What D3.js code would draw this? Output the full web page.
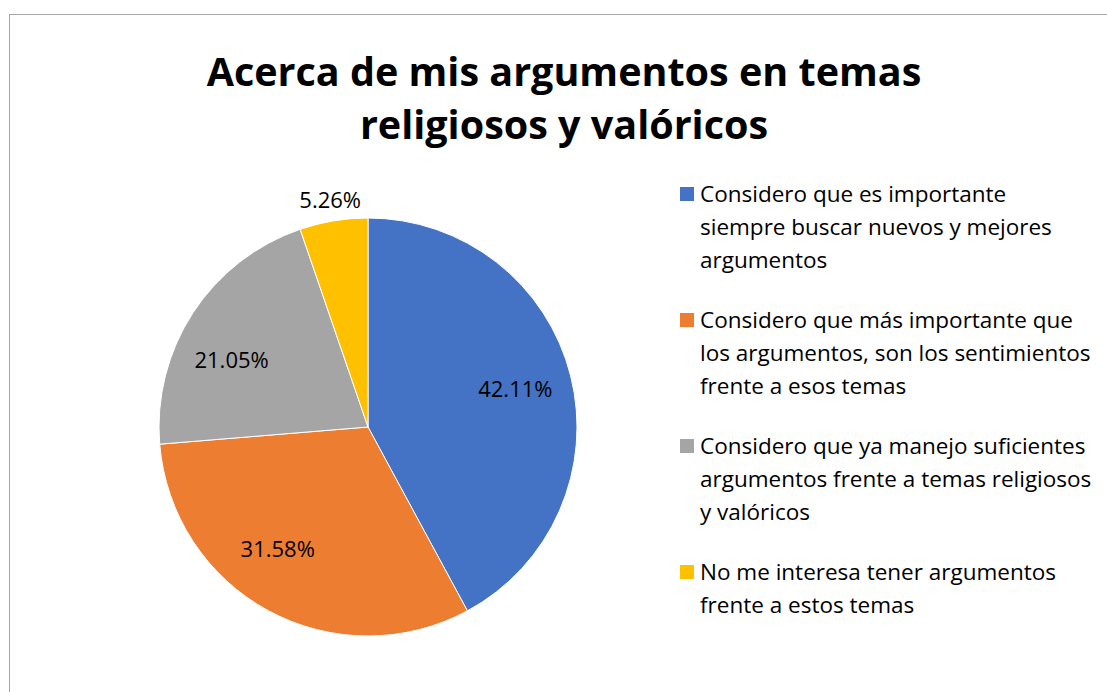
<!DOCTYPE html>
<html>
<head>
<meta charset="utf-8">
<script src="https://cdn.jsdelivr.net/npm/d3@7"></script>
<style>
  body { margin: 0; background: #fff; }
  svg { display: block; font-family: "Open Sans", sans-serif; }
</style>
</head>
<body>
<div id="chart"></div>
<script>
// Data
var categories = [
  ["Considero que es importante", "siempre buscar nuevos y mejores", "argumentos"],
  ["Considero que más importante que", "los argumentos, son los sentimientos", "frente a esos temas"],
  ["Considero que ya manejo suficientes", "argumentos frente a temas religiosos", "y valóricos"],
  ["No me interesa tener argumentos", "frente a estos temas"]
];
var values = [42.11, 31.58, 21.05, 5.26];
var labels = ["42.11%", "31.58%", "21.05%", "5.26%"];
var colors = ["#4472c4", "#ed7d31", "#a5a5a5", "#ffc000"];
var titleLines = ["Acerca de mis argumentos en temas", "religiosos y valóricos"];

var width = 1107, height = 692;

var svg = d3.select("#chart")
  .append("svg")
  .attr("width", width)
  .attr("height", height);

// chart border
svg.append("rect")
  .attr("x", 9.5).attr("y", 14.5)
  .attr("width", 1120).attr("height", 700)
  .style("fill", "none")
  .style("stroke", "#a6a6a6")
  .style("stroke-width", 1);

// title
svg.append("text")
  .attr("text-anchor", "middle")
  .style("font-size", "39.5px")
  .style("font-weight", "bold")
  .style("fill", "#000")
  .selectAll("tspan")
  .data(titleLines)
  .enter()
  .append("tspan")
    .attr("x", 564)
    .attr("y", function(d, i) { return 86 + i * 53; })
    .text(function(d) { return d; });

// pie
var radius = 209;
var g = svg.append("g")
  .attr("transform", "translate(368,427)");

var pie = d3.pie().sort(null).value(function(d) { return d; });
var arc = d3.arc().innerRadius(0).outerRadius(radius);
var arcs = pie(values);

g.selectAll("path")
  .data(arcs)
  .enter()
  .append("path")
    .attr("d", arc)
    .style("fill", function(d, i) { return colors[i]; })
    .style("stroke", "#fff")
    .style("stroke-width", 1);

// data labels: inside for big slices, outside for the small one
var labelOffsets = [0, 8, -7, 0];
g.selectAll("text.lbl")
  .data(arcs)
  .enter()
  .append("text")
    .attr("class", "lbl")
    .attr("text-anchor", "middle")
    .attr("dy", "0.35em")
    .style("font-size", "22px")
    .style("fill", "#000")
    .attr("transform", function(d, i) {
      var r = d.value < 10 ? 230 : 152;
      var a = (d.startAngle + d.endAngle) / 2 + labelOffsets[i] * Math.PI / 180;
      return "translate(" + (Math.sin(a) * r) + "," + (-Math.cos(a) * r) + ")";
    })
    .text(function(d, i) { return labels[i]; });

// legend
var legend = svg.selectAll("g.legend")
  .data(categories)
  .enter()
  .append("g")
    .attr("class", "legend")
    .attr("transform", function(d, i) { return "translate(680," + (194 + i * 126) + ")"; });

legend.append("rect")
  .attr("x", 0).attr("y", -7)
  .attr("width", 14).attr("height", 14)
  .style("fill", function(d, i) { return colors[i]; });

legend.append("text")
  .style("font-size", "22.5px")
  .style("fill", "#000")
  .selectAll("tspan")
  .data(function(d) { return d; })
  .enter()
  .append("tspan")
    .attr("x", 20)
    .attr("y", function(d, i) { return i * 33; })
    .attr("dy", "0.35em")
    .text(function(d) { return d; });
</script>
</body>
</html>
